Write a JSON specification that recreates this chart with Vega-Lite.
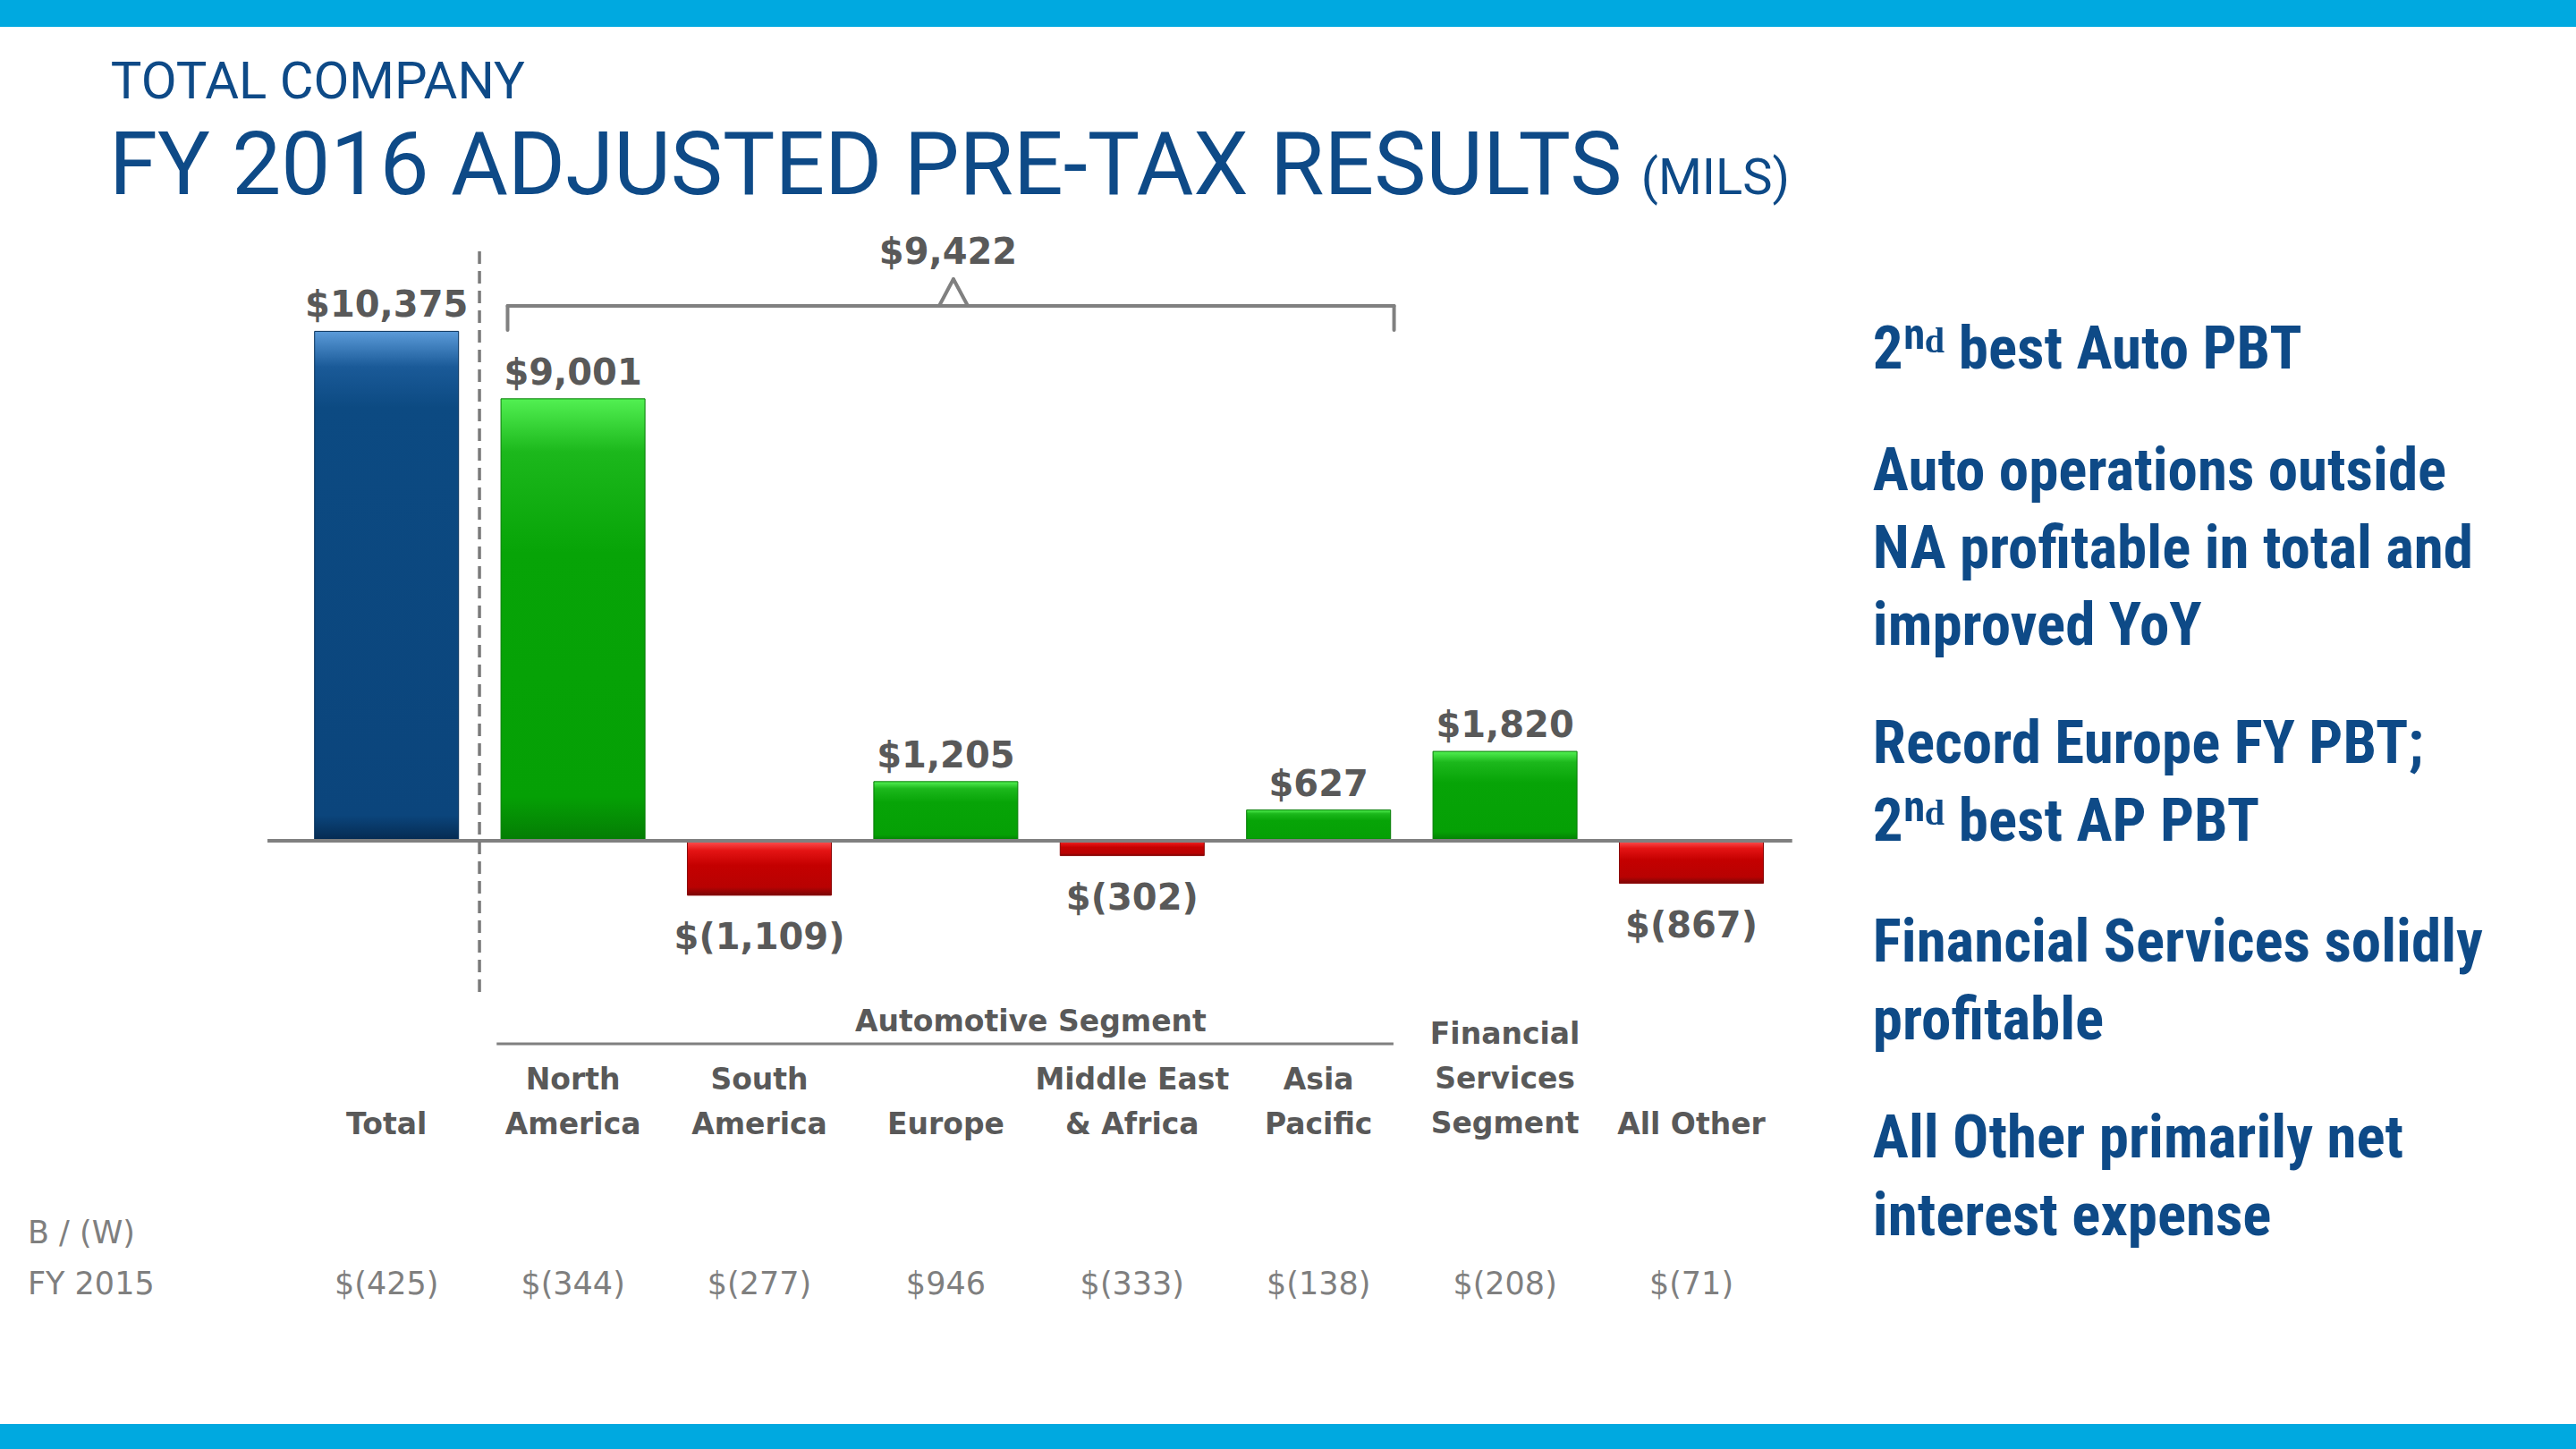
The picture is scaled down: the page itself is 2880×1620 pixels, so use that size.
{
  "$schema": "https://vega.github.io/schema/vega-lite/v6.json",
  "width": 2880,
  "height": 1620,
  "padding": 0,
  "autosize": {"type": "none"},
  "background": "#ffffff",
  "config": {
    "view": {"stroke": null},
    "axis": {"disable": true},
    "text": {"font": "DejaVu Sans"}
  },
  "data": {
    "values": [
      {"cat": "Total", "v": 10375, "bw": -425},
      {"cat": "North\nAmerica", "v": 9001, "bw": -344},
      {"cat": "South\nAmerica", "v": -1109, "bw": -277},
      {"cat": "Europe", "v": 1205, "bw": 946},
      {"cat": "Middle East\n& Africa", "v": -302, "bw": -333},
      {"cat": "Asia\nPacific", "v": 627, "bw": -138},
      {"cat": "Financial\nServices\nSegment", "v": 1820, "bw": -208},
      {"cat": "All Other", "v": -867, "bw": -71}
    ]
  },
  "layer": [
    {
      "data": {"values": [{"band": "top"}]},
      "mark": {"type": "rect", "color": "#00a9e0"},
      "encoding": {
        "y": {"datum": 17122, "type": "quantitative", "scale": {"domain": [-12386, 17122], "nice": false, "zero": false}},
        "y2": {"datum": 16576}
      }
    },
    {
      "data": {"values": [{"band": "bottom"}]},
      "mark": {"type": "rect", "color": "#00a9e0"},
      "encoding": {
        "y": {"datum": -11876, "type": "quantitative"},
        "y2": {"datum": -12386}
      }
    },
    {
      "transform": [{"filter": "datum.cat == 'Total'"}],
      "mark": {
        "type": "bar",
        "fill": {"gradient": "linear", "x1": 0, "y1": 0, "x2": 0, "y2": 1, "stops": [
          {"offset": 0, "color": "#5b9bd9"},
          {"offset": 0.07, "color": "#1a5a98"},
          {"offset": 0.15, "color": "#0c4a82"},
          {"offset": 0.95, "color": "#0b457c"},
          {"offset": 1, "color": "#052a50"}
        ]},
        "stroke": "#06315a",
        "strokeWidth": 1
      },
      "encoding": {
        "x": {"field": "cat", "type": "nominal", "sort": null, "scale": {"domain": ["Total", "North\nAmerica", "South\nAmerica", "Europe", "Middle East\n& Africa", "Asia\nPacific", "Financial\nServices\nSegment", "All Other"], "range": [299, 2004], "paddingInner": 0.2274, "paddingOuter": 0.2044, "align": 0.6185}},
        "y": {"field": "v", "type": "quantitative"}
      }
    },
    {
      "transform": [{"filter": "datum.cat != 'Total' && datum.v > 0"}],
      "mark": {
        "type": "bar",
        "fill": {"gradient": "linear", "x1": 0, "y1": 0, "x2": 0, "y2": 1, "stops": [
          {"offset": 0, "color": "#52f052"},
          {"offset": 0.12, "color": "#1cb81c"},
          {"offset": 0.35, "color": "#07a407"},
          {"offset": 0.9, "color": "#05a005"},
          {"offset": 1, "color": "#047c04"}
        ]},
        "stroke": "#047a04",
        "strokeWidth": 1
      },
      "encoding": {
        "x": {"field": "cat", "type": "nominal", "sort": null},
        "y": {"field": "v", "type": "quantitative"}
      }
    },
    {
      "transform": [{"filter": "datum.v < 0"}],
      "mark": {
        "type": "bar",
        "fill": {"gradient": "linear", "x1": 0, "y1": 0, "x2": 0, "y2": 1, "stops": [
          {"offset": 0, "color": "#ff5555"},
          {"offset": 0.18, "color": "#e41414"},
          {"offset": 0.45, "color": "#c40000"},
          {"offset": 0.85, "color": "#b80202"},
          {"offset": 1, "color": "#7a0606"}
        ]},
        "stroke": "#8a0505",
        "strokeWidth": 1
      },
      "encoding": {
        "x": {"field": "cat", "type": "nominal", "sort": null},
        "y": {"field": "v", "type": "quantitative"}
      }
    },
    {
      "data": {"values": [{"line": "baseline"}]},
      "mark": {"type": "rule", "color": "#808080", "strokeWidth": 4},
      "encoding": {
        "x": {"datum": "Total", "bandPosition": -0.327},
        "x2": {"datum": "All Other", "bandPosition": 1.2},
        "y": {"datum": 0}
      }
    },
    {
      "data": {"values": [{"line": "divider"}]},
      "mark": {"type": "rule", "color": "#7a7a7a", "strokeWidth": 3.5, "strokeDash": [14, 8]},
      "encoding": {
        "x": {"datum": "Total", "bandPosition": 1.145},
        "y": {"datum": 12004},
        "y2": {"datum": -3097}
      }
    },
    {
      "data": {"values": [{"line": "brace"}]},
      "mark": {"type": "rule", "color": "#808080", "strokeWidth": 4, "strokeCap": "round"},
      "encoding": {
        "x": {"datum": "North\nAmerica", "bandPosition": 0.046},
        "x2": {"datum": "Asia\nPacific", "bandPosition": 1.024},
        "y": {"datum": 10893}
      }
    },
    {
      "data": {"values": [{"line": "brace-left"}]},
      "mark": {"type": "rule", "color": "#808080", "strokeWidth": 4, "strokeCap": "round"},
      "encoding": {
        "x": {"datum": "North\nAmerica", "bandPosition": 0.046},
        "y": {"datum": 10893},
        "y2": {"datum": 10401}
      }
    },
    {
      "data": {"values": [{"line": "brace-right"}]},
      "mark": {"type": "rule", "color": "#808080", "strokeWidth": 4, "strokeCap": "round"},
      "encoding": {
        "x": {"datum": "Asia\nPacific", "bandPosition": 1.024},
        "y": {"datum": 10893},
        "y2": {"datum": 10401}
      }
    },
    {
      "data": {"values": [{"line": "brace-peak-left"}]},
      "mark": {"type": "rule", "color": "#808080", "strokeWidth": 4, "strokeCap": "round"},
      "encoding": {
        "x": {"datum": "Europe", "bandPosition": 0.454},
        "x2": {"datum": "Europe", "bandPosition": 0.553},
        "y": {"datum": 10893},
        "y2": {"datum": 11439}
      }
    },
    {
      "data": {"values": [{"line": "brace-peak-right"}]},
      "mark": {"type": "rule", "color": "#808080", "strokeWidth": 4, "strokeCap": "round"},
      "encoding": {
        "x": {"datum": "Europe", "bandPosition": 0.553},
        "x2": {"datum": "Europe", "bandPosition": 0.653},
        "y": {"datum": 11439},
        "y2": {"datum": 10893}
      }
    },
    {
      "data": {"values": [{"label": "auto total"}]},
      "mark": {"type": "text", "text": "$9,422", "font": "DejaVu Sans", "fontWeight": "bold", "fontSize": 40, "color": "#595959", "align": "center", "baseline": "alphabetic"},
      "encoding": {
        "x": {"datum": "Europe", "bandPosition": 0.516},
        "y": {"datum": 11749}
      }
    },
    {
      "transform": [{"filter": "datum.v > 0"}],
      "mark": {"type": "text", "font": "DejaVu Sans", "fontWeight": "bold", "fontSize": 40, "color": "#595959", "align": "center", "baseline": "alphabetic", "dy": -16},
      "encoding": {
        "x": {"field": "cat", "type": "nominal", "sort": null},
        "y": {"field": "v", "type": "quantitative"},
        "text": {"value": {"expr": "'$' + format(datum.v, ',')"}}
      }
    },
    {
      "transform": [{"filter": "datum.v < 0"}],
      "mark": {"type": "text", "font": "DejaVu Sans", "fontWeight": "bold", "fontSize": 40, "color": "#595959", "align": "center", "baseline": "alphabetic", "dy": 60},
      "encoding": {
        "x": {"field": "cat", "type": "nominal", "sort": null},
        "y": {"field": "v", "type": "quantitative"},
        "text": {"value": {"expr": "'$(' + format(-datum.v, ',') + ')'"}}
      }
    },
    {
      "transform": [{"filter": "length(split(datum.cat, '\\n')) == 1"}],
      "mark": {"type": "text", "font": "DejaVu Sans", "fontWeight": "bold", "fontSize": 33, "color": "#595959", "align": "center", "baseline": "alphabetic", "lineBreak": "\n", "lineHeight": 50},
      "encoding": {
        "x": {"field": "cat", "type": "nominal", "sort": null},
        "y": {"datum": -5974},
        "text": {"field": "cat"}
      }
    },
    {
      "transform": [{"filter": "length(split(datum.cat, '\\n')) == 2"}],
      "mark": {"type": "text", "font": "DejaVu Sans", "fontWeight": "bold", "fontSize": 33, "color": "#595959", "align": "center", "baseline": "alphabetic", "lineBreak": "\n", "lineHeight": 50},
      "encoding": {
        "x": {"field": "cat", "type": "nominal", "sort": null},
        "y": {"datum": -5064},
        "text": {"field": "cat"}
      }
    },
    {
      "transform": [{"filter": "length(split(datum.cat, '\\n')) == 3"}],
      "mark": {"type": "text", "font": "DejaVu Sans", "fontWeight": "bold", "fontSize": 33, "color": "#595959", "align": "center", "baseline": "alphabetic", "lineBreak": "\n", "lineHeight": 50},
      "encoding": {
        "x": {"field": "cat", "type": "nominal", "sort": null},
        "y": {"datum": -4135},
        "text": {"field": "cat"}
      }
    },
    {
      "data": {"values": [{"label": "segment"}]},
      "mark": {"type": "text", "text": "Automotive Segment", "font": "DejaVu Sans", "fontWeight": "bold", "fontSize": 33, "color": "#595959", "align": "center", "baseline": "alphabetic"},
      "encoding": {
        "x": {"datum": "Europe", "bandPosition": 1.09},
        "y": {"datum": -3880}
      }
    },
    {
      "data": {"values": [{"line": "segment"}]},
      "mark": {"type": "rule", "color": "#808080", "strokeWidth": 3},
      "encoding": {
        "x": {"datum": "North\nAmerica", "bandPosition": -0.03},
        "x2": {"datum": "Asia\nPacific", "bandPosition": 1.02},
        "y": {"datum": -4135}
      }
    },
    {
      "mark": {"type": "text", "font": "DejaVu Sans", "fontSize": 35, "color": "#7f7f7f", "align": "center", "baseline": "alphabetic"},
      "encoding": {
        "x": {"field": "cat", "type": "nominal", "sort": null},
        "y": {"datum": -9235},
        "text": {"value": {"expr": "datum.bw < 0 ? '$(' + format(-datum.bw, ',') + ')' : '$' + format(datum.bw, ',')"}}
      }
    },
    {
      "data": {"values": [{"label": "row header"}]},
      "mark": {"type": "text", "text": "B / (W)\nFY 2015", "lineBreak": "\n", "lineHeight": 57, "font": "DejaVu Sans", "fontSize": 35, "color": "#7f7f7f", "align": "left", "baseline": "alphabetic"},
      "encoding": {
        "x": {"datum": "Total", "bandPosition": -1.992},
        "y": {"datum": -8197}
      }
    },
    {
      "data": {"values": [{"label": "kicker"}]},
      "mark": {"type": "text", "text": "TOTAL COMPANY", "font": "Roboto", "fontSize": 58, "color": "#0e4a87", "align": "left", "baseline": "alphabetic"},
      "encoding": {
        "x": {"datum": "Total", "bandPosition": -1.415},
        "y": {"datum": 15118}
      }
    },
    {
      "data": {"values": [{"label": "title"}]},
      "mark": {"type": "text", "text": "FY 2016 ADJUSTED PRE-TAX RESULTS", "font": "Roboto", "fontSize": 98, "color": "#0e4a87", "align": "left", "baseline": "alphabetic"},
      "encoding": {
        "x": {"datum": "Total", "bandPosition": -1.427},
        "y": {"datum": 13169}
      }
    },
    {
      "data": {"values": [{"label": "unit"}]},
      "mark": {"type": "text", "text": "(MILS)", "font": "Roboto", "fontSize": 56, "color": "#0e4a87", "align": "left", "baseline": "alphabetic"},
      "encoding": {
        "x": {"datum": "All Other", "bandPosition": 0.151},
        "y": {"datum": 13169}
      }
    },
    {
      "data": {"values": [{"note": "2ⁿᵈ best Auto PBT"}]},
      "mark": {"type": "text", "align": "left", "baseline": "alphabetic", "lineBreak": "\n", "lineHeight": 86.6, "font": "Liberation Sans Narrow, Roboto Condensed, Roboto", "fontWeight": "bold", "fontSize": 67, "color": "#0e4a87"},
      "encoding": {
        "x": {"datum": "All Other", "bandPosition": 1.76},
        "y": {"datum": 9617},
        "text": {"field": "note"}
      }
    },
    {
      "data": {"values": [{"note": "Auto operations outside\nNA profitable in total and\nimproved YoY"}]},
      "mark": {"type": "text", "align": "left", "baseline": "alphabetic", "lineBreak": "\n", "lineHeight": 86.6, "font": "Liberation Sans Narrow, Roboto Condensed, Roboto", "fontWeight": "bold", "fontSize": 67, "color": "#0e4a87"},
      "encoding": {
        "x": {"datum": "All Other", "bandPosition": 1.76},
        "y": {"datum": 7140},
        "text": {"field": "note"}
      }
    },
    {
      "data": {"values": [{"note": "Record Europe FY PBT;\n2ⁿᵈ best AP PBT"}]},
      "mark": {"type": "text", "align": "left", "baseline": "alphabetic", "lineBreak": "\n", "lineHeight": 86.6, "font": "Liberation Sans Narrow, Roboto Condensed, Roboto", "fontWeight": "bold", "fontSize": 67, "color": "#0e4a87"},
      "encoding": {
        "x": {"datum": "All Other", "bandPosition": 1.76},
        "y": {"datum": 1585},
        "text": {"field": "note"}
      }
    },
    {
      "data": {"values": [{"note": "Financial Services solidly\nprofitable"}]},
      "mark": {"type": "text", "align": "left", "baseline": "alphabetic", "lineBreak": "\n", "lineHeight": 86.6, "font": "Liberation Sans Narrow, Roboto Condensed, Roboto", "fontWeight": "bold", "fontSize": 67, "color": "#0e4a87"},
      "encoding": {
        "x": {"datum": "All Other", "bandPosition": 1.76},
        "y": {"datum": -2459},
        "text": {"field": "note"}
      }
    },
    {
      "data": {"values": [{"note": "All Other primarily net\ninterest expense"}]},
      "mark": {"type": "text", "align": "left", "baseline": "alphabetic", "lineBreak": "\n", "lineHeight": 86.6, "font": "Liberation Sans Narrow, Roboto Condensed, Roboto", "fontWeight": "bold", "fontSize": 67, "color": "#0e4a87"},
      "encoding": {
        "x": {"datum": "All Other", "bandPosition": 1.76},
        "y": {"datum": -6448},
        "text": {"field": "note"}
      }
    }
  ]
}
